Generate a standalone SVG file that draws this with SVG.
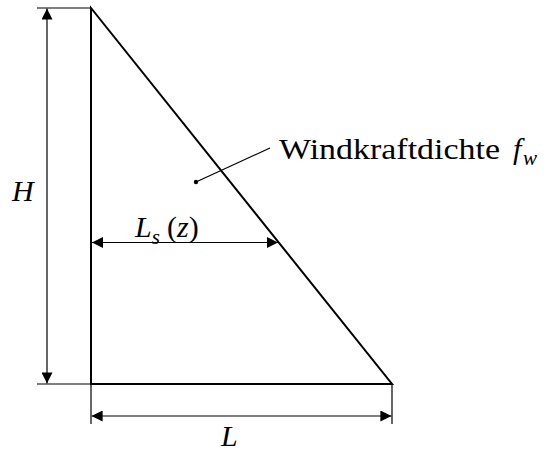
<svg xmlns="http://www.w3.org/2000/svg" width="544" height="452" viewBox="0 0 544 452">
  <style>
    .shape { fill: none; stroke: #000; stroke-width: 2; stroke-linejoin: miter; }
    .dim { fill: none; stroke: #000; stroke-width: 1.2; }
    .arr { marker-start: url(#ah); marker-end: url(#ah); }
    .t { font-size: 30px; fill: #000; }
    .it { font-style: italic; }
  </style>
  <defs>
    <marker id="ah" viewBox="0 0 10 10" refX="10" refY="5" markerUnits="userSpaceOnUse" markerWidth="11" markerHeight="11" orient="auto-start-reverse">
      <path d="M0,0 L10,5 L0,10 z" fill="#000"/>
    </marker>
  </defs>

  <g id="triangle">
    <path class="shape" d="M91,8 L91,384 L392,384 Z"/>
  </g>

  <g id="connectors">
    <line class="dim" x1="37" y1="8" x2="91" y2="8"/>
    <line class="dim" x1="37" y1="384" x2="91" y2="384"/>
    <line class="dim" x1="91" y1="384" x2="91" y2="424"/>
    <line class="dim" x1="392" y1="384" x2="392" y2="424"/>
    <line class="dim arr" x1="47" y1="8.6" x2="47" y2="383.4"/>
    <line class="dim arr" x1="91.6" y1="416" x2="391.4" y2="416"/>
    <line class="dim arr" x1="92" y1="242.5" x2="278" y2="242.5"/>
    <line class="dim" x1="196" y1="182" x2="270" y2="148"/>
    <circle cx="196" cy="182" r="2.2" fill="#000"/>
  </g>

  <g id="label-H">
    <text class="t it" font-family="'Liberation Serif', 'DejaVu Serif', serif" x="12" y="201">H</text>
  </g>
  <g id="label-L">
    <text class="t it" font-family="'Liberation Serif', 'DejaVu Serif', serif" x="221" y="446">L</text>
  </g>
  <g id="label-Ls">
    <text class="t" font-family="'Liberation Serif', 'DejaVu Serif', serif" x="135" y="237"><tspan class="it">L</tspan><tspan class="it" font-size="21" dy="7">s</tspan><tspan dy="-7" x="167">(</tspan><tspan class="it">z</tspan><tspan>)</tspan></text>
  </g>
  <g id="label-fw">
    <text class="t" font-family="'Liberation Serif', 'DejaVu Serif', serif" x="279" y="159" textLength="221" lengthAdjust="spacingAndGlyphs">Windkraftdichte</text>
    <text class="t it" font-family="'Liberation Serif', 'DejaVu Serif', serif" x="513" y="159">f<tspan font-size="21" x="523" dy="6">w</tspan></text>
  </g>
</svg>
